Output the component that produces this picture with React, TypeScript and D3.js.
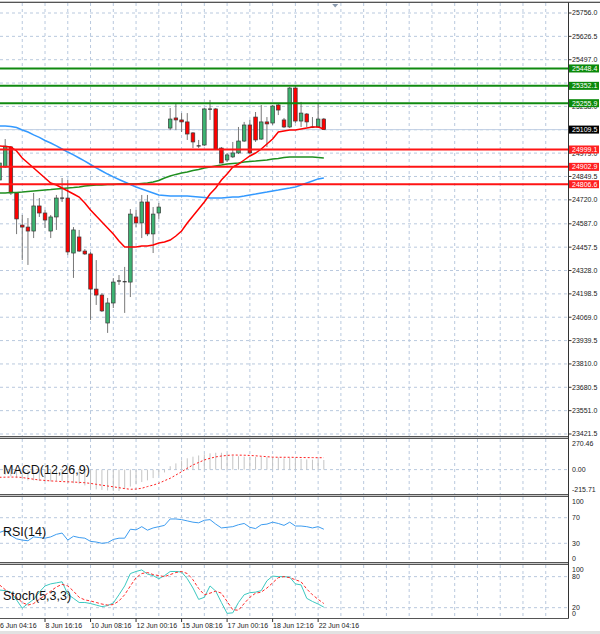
import React from "react";
import * as d3 from "d3";

// ---------- data ----------
const priceTickLabels = ["25756.0","25626.5","25497.0","25367.5","25238.0","25108.5","24979.0","24849.5","24720.0","24587.0","24457.5","24328.0","24198.5","24069.0","23939.5","23810.0","23680.5","23551.0","23421.5"];
// tick labels fully covered by the level boxes in the reference
const hiddenTickLabels = ["25367.5", "25108.5"];
const resistanceLevels = [25448.4, 25352.1, 25255.9];
const supportLevels = [24999.1, 24902.9, 24806.6];
const lastPrice = 25109.5;

const dateIndex = [0, 8, 16, 24, 32, 40, 48, 56];
const dateLabels = ["6 Jun 04:16","8 Jun 16:16","10 Jun 08:16","12 Jun 00:16","15 Jun 08:16","17 Jun 00:16","18 Jun 12:16","22 Jun 04:16"];

const opens = [24830,24902,25013,24758,24580,24569,24547,24686,24647,24547,24625,24730,24730,24425,24514,24436,24420,24225,24192,24037,24148,24270,24265,24264,24625,24592,24708,24531,24647,null,25118,25174,25163,25152,25091,25020,25024,25224,25224,25007,24941,24958,24980,25046,25135,25179,25057,25152,25146,25246,25163,25124,25340,25157,25196,25124,25124,25168];
const highs = [24941,25057,25018,24763,24636,24619,24758,24730,24664,24636,24747,24841,24830,24569,24553,24447,24431,24386,24203,24176,24286,24303,24348,24669,24664,24747,24747,24680,24702,null,25229,25257,25201,25201,25096,25052,25229,25274,25229,25013,24980,25041,25124,25152,25163,25207,25246,25179,25246,25257,25174,25346,25351,25263,25201,25179,25257,25174];
const lows = [24802,24897,24747,24530,24386,24359,24508,24625,24564,24508,24553,24708,24414,24287,24431,24414,24054,24137,24098,23982,24120,24248,24093,24181,24569,24508,24519,24425,24614,null,25107,25107,25096,25052,25007,25007,25018,25163,24996,24924,24930,24952,24974,25041,24974,25041,25052,25013,25135,25190,25118,25118,25146,25124,25124,25118,25118,25107];
const closes = [24924,25018,24758,24614,24569,24547,24686,24647,24608,24625,24730,24728,24431,24553,24436,24420,24225,24192,24104,24148,24264,24270,24267,24641,24592,24708,24531,24641,24680,null,25168,25163,25152,25085,25041,25018,25224,25222,25002,24924,24969,24980,25046,25135,24980,25052,25152,25141,25240,25218,25124,25340,25157,25201,25152,25122,25168,25109.5];

const maFast = [25018.5,25015.7,25013.0,24990.8,24952.0,24924.3,24896.5,24868.8,24841.1,24813.4,24802.3,24785.6,24769.0,24752.4,24735.7,24702.5,24663.6,24630.4,24597.1,24563.8,24530.5,24491.7,24458.5,24458.5,24458.5,24464.0,24464.0,24469.6,24480.7,24486.2,24497.3,24519.4,24547.2,24591.5,24630.4,24669.2,24708.0,24752.4,24785.6,24830.0,24863.3,24902.1,24918.7,24940.9,24963.1,24979.7,25001.9,25029.6,25057.3,25096.1,25101.7,25107.2,25107.2,25112.8,25118.3,25123.9,25123.9,25112.8];
const maSlow = [24758,24758,24761,24761,24763,24766,24769,24772,24775,24777,24780,24783,24786,24788,24791,24797,24800,24802,24802,24805,24805,24808,24808,24808,24808,24811,24813,24819,24827,24841,24852,24861,24869,24874,24883,24888,24897,24902,24908,24913,24919,24922,24924,24930,24933,24935,24938,24941,24946,24949,24955,24958,24958,24958,24958,24958,24955,24952];
const maMid = [25129,25129,25127,25121,25107,25096,25080,25066,25049,25035,25019,25002,24985,24969,24952,24935,24916,24897,24880,24863,24847,24833,24819,24805,24791,24780,24769,24758,24747,24744,24741,24741,24741,24741,24739,24736,24733,24730,24730,24730,24733,24736,24736,24741,24747,24752,24758,24763,24769,24774,24780,24785,24791,24802,24813,24824,24836,24841];

const macdMain = [-50,-45,-60,-75,-85,-95,-95,-100,-105,-105,-100,-100,-115,-120,-125,-140,-166,-175,-180,-185,-189,-189,-170,-150,-130,-110,-95,-75,-50,-25,30,55,80,100,114,125,135,144,149,149,140,125,118,114,114,112,112,110,110,108,100,105,100,95,90,88,85,85];
const macdSignal = [-68,-67,-66,-66,-70,-78,-85,-92,-96,-100,-103,-106,-108,-110,-113,-116,-122,-130,-138,-145,-152,-160,-168,-174,-172,-165,-150,-137,-121,-98,-77,-48,-19,12,41,63,85,100,112,120,125,129,128,127,125,122,118,114,110,109,109,109,108,107,106,106,105,105];
const macdTicks = [270.46, 0, -215.71];

const rsiValues = [47,50,42,37,35,34,40,39,38,40,44,46,35,41,39,38,33,32,30,31,36,38,38,52,51,56,50.5,54,56,58,68,68,67,65,63,62,66,67,60,54,55,56,59,61,55,53,59,60,63,61,58,63,57,57,56,54,56,52];
const rsiTicks = [100, 70, 30, 0];
const rsiGrid = [70, 30];

const stochK = [54,53,50,35,19,28,36,50,62,66,68,70,46,38,30,30,28,25,22,24,29,45,62,86,90,93,85,82,76,82,90,90,89,76,58,36,40,62,52,30,9,10,30,45,49,50,53,72,81,80,80,79,66,64,38,32,27,21];
const stochD = [64,55,47,40,30,25,28,36,44,52,60,65,62,52,40,35,33,30,27,25,26,33,45,62,78,86,88,84,82,80,84,88,90,86,74,57,45,48,52,48,32,16,15,28,40,48,50,58,68,78,80,78,74,70,56,45,36,28];
const stochTicks = [100, 80, 20, 0];
const stochGrid = [80, 20];

// ---------- layout ----------
const W = 600, H = 634;
const AX = 568.5;
const FONT = "'Liberation Sans', Arial, sans-serif";
const GRID = "#b9c9de";

export default function App() {
  const x = d3.scaleLinear().domain([0, 100]).range([-0.5, 568.5]);
  const yMain = d3.scaleLinear().domain([23421.5, 25756]).range([434, 13]);
  const yMacd = d3.scaleLinear().domain([-215.71, 270.46]).range([494, 439]);
  const yRsi = d3.scaleLinear().domain([0, 100]).range([562.5, 498.5]);
  const ySto = d3.scaleLinear().domain([0, 100]).range([618, 566.3]);

  const panels = [
    { id: "pm", top: 3, bottom: 436 },
    { id: "pmacd", top: 439, bottom: 494.5 },
    { id: "prsi", top: 497, bottom: 563 },
    { id: "psto", top: 565, bottom: 618.5 },
  ];
  const gridIdx = d3.range(4, 100, 4);

  const idx = d3.range(opens.length);
  const lineOf = (vals: number[], y: d3.ScaleLinear<number, number>) =>
    d3.line<number>().x((_, i) => x(i)).y((v) => y(v))(vals) || "";

  const clampLabel = (yy: number, top: number, bottom: number) =>
    Math.max(top + 4.5, Math.min(bottom - 4.5, yy));

  const axisText = (key: string, yy: number, text: string, fill = "#222") => (
    <text key={key} x={572} y={yy} dy="0.35em" fontSize={7} fontFamily={FONT} fill={fill}>{text}</text>
  );

  const levelBox = (key: string, v: number, bg: string) => (
    <g key={key}>
      <rect x={569} y={yMain(v) - 4} width={30} height={8} fill={bg} />
      <text x={572} y={yMain(v)} dy="0.35em" fontSize={7} fontFamily={FONT} fill="#fff">{v.toFixed(1)}</text>
    </g>
  );

  return (
    <svg width={W} height={H} style={{ position: "fixed", left: 0, top: 0, background: "#fff" }}>
      <defs>
        {panels.map((p) => (
          <clipPath id={p.id} key={p.id}>
            <rect x={0} y={p.top} width={AX} height={p.bottom - p.top} />
          </clipPath>
        ))}
      </defs>
      <rect x={0} y={0} width={W} height={H} fill="#fff" />

      {/* vertical grid in all panels */}
      {panels.map((p) => (
        <g key={"vg" + p.id}>
          {gridIdx.map((i) => (
            <line key={i} x1={x(i)} x2={x(i)} y1={p.top} y2={p.bottom} stroke={GRID} strokeDasharray="3,3" strokeWidth={1} />
          ))}
        </g>
      ))}

      {/* main panel horizontal grid */}
      {priceTickLabels.map((t) => (
        <line key={"hg" + t} x1={0} x2={AX} y1={yMain(+t)} y2={yMain(+t)} stroke={GRID} strokeDasharray="3,3" />
      ))}

      <g clipPath="url(#pm)">
        {/* bid line */}
        <line x1={0} x2={AX} y1={yMain(lastPrice)} y2={yMain(lastPrice)} stroke="#c2d0e4" strokeWidth={1} />
        {/* candles */}
        {idx.map((i) => {
          const o = opens[i], h = highs[i], l = lows[i], c = closes[i];
          if (o == null || h == null || l == null || c == null) return null;
          const cx = x(i);
          const top = yMain(Math.max(o, c));
          const bot = yMain(Math.min(o, c));
          const doji = Math.abs(bot - top) < 1.2;
          return (
            <g key={"c" + i}>
              <line x1={cx} x2={cx} y1={yMain(h)} y2={yMain(l)} stroke="#787878" strokeWidth={1} />
              {doji ? (
                <line x1={cx - 2} x2={cx + 2} y1={(top + bot) / 2} y2={(top + bot) / 2} stroke="#333" strokeWidth={1.2} />
              ) : (
                <rect x={cx - 1.8} y={top} width={3.6} height={bot - top} fill={c > o ? "#3cb371" : "#ff0000"} stroke="#3a3a3a" strokeWidth={0.7} />
              )}
            </g>
          );
        })}
        {/* moving averages */}
        <path d={lineOf(maMid, yMain)} fill="none" stroke="#3399ff" strokeWidth={1.5} />
        <path d={lineOf(maSlow, yMain)} fill="none" stroke="#1f8f1f" strokeWidth={1.5} />
        <path d={lineOf(maFast, yMain)} fill="none" stroke="#ff0000" strokeWidth={1.5} />
        {/* levels */}
        {resistanceLevels.map((v) => (
          <line key={"r" + v} x1={0} x2={AX} y1={yMain(v)} y2={yMain(v)} stroke="#108a10" strokeWidth={2} />
        ))}
        {supportLevels.map((v) => (
          <line key={"s" + v} x1={0} x2={AX} y1={yMain(v)} y2={yMain(v)} stroke="#ff1414" strokeWidth={2} />
        ))}
      </g>

      {/* MACD */}
      <line x1={0} x2={AX} y1={yMacd(0)} y2={yMacd(0)} stroke={GRID} strokeDasharray="3,3" />
      <g clipPath="url(#pmacd)">
        {idx.map((i) => (
          <line key={"h" + i} x1={x(i)} x2={x(i)} y1={yMacd(0)} y2={yMacd(macdMain[i])} stroke="#c4c4c4" strokeWidth={1} />
        ))}
        <path d={lineOf(macdSignal, yMacd)} fill="none" stroke="#ff2020" strokeWidth={1} strokeDasharray="2,2" />
      </g>
      <text x={3} y={470} dy="0.35em" fontSize={12.5} fontFamily={FONT} fill="#111">MACD(12,26,9)</text>

      {/* RSI */}
      {rsiGrid.map((v) => (
        <line key={"rg" + v} x1={0} x2={AX} y1={yRsi(v)} y2={yRsi(v)} stroke={GRID} strokeDasharray="3,3" />
      ))}
      <g clipPath="url(#prsi)">
        <path d={lineOf(rsiValues, yRsi)} fill="none" stroke="#3d9cf0" strokeWidth={1} />
      </g>
      <text x={3} y={532} dy="0.35em" fontSize={12.5} fontFamily={FONT} fill="#111">RSI(14)</text>

      {/* Stochastic */}
      {stochGrid.map((v) => (
        <line key={"sg" + v} x1={0} x2={AX} y1={ySto(v)} y2={ySto(v)} stroke={GRID} strokeDasharray="3,3" />
      ))}
      <g clipPath="url(#psto)">
        <path d={lineOf(stochK, ySto)} fill="none" stroke="#3cc8c0" strokeWidth={1} />
        <path d={lineOf(stochD, ySto)} fill="none" stroke="#ff2a2a" strokeWidth={1} strokeDasharray="3,2" />
      </g>
      <text x={3} y={595.5} dy="0.35em" fontSize={12.5} fontFamily={FONT} fill="#111">Stoch(5,3,3)</text>

      {/* borders */}
      <line x1={0} x2={W} y1={1.5} y2={1.5} stroke="#c8c8c8" />
      <line x1={0} x2={W} y1={2.5} y2={2.5} stroke="#555" />
      {[436.5, 438.5, 494.5, 496.5, 562.5, 564.5, 618.5].map((yy) => (
        <line key={"b" + yy} x1={0} x2={AX} y1={yy} y2={yy} stroke="#555" strokeWidth={1} />
      ))}
      {[437.5, 495.5, 563.5].map((yy) => (
        <line key={"bl" + yy} x1={0} x2={AX} y1={yy} y2={yy} stroke="#c8c8c8" strokeWidth={1} />
      ))}
      <line x1={AX} x2={AX} y1={2.5} y2={618.5} stroke="#333" strokeWidth={1} />

      {/* price axis */}
      {priceTickLabels.map((t) => (
        <g key={"pt" + t}>
          <line x1={AX} x2={AX + 3} y1={yMain(+t)} y2={yMain(+t)} stroke="#333" />
          {hiddenTickLabels.includes(t) ? null : axisText("pl" + t, yMain(+t), t)}
        </g>
      ))}
      {resistanceLevels.map((v) => levelBox("rb" + v, v, "#0a8a0a"))}
      {supportLevels.map((v) => levelBox("sb" + v, v, "#ff2020"))}
      {levelBox("last", lastPrice, "#000")}

      {/* subpanel axes */}
      {macdTicks.map((v) => axisText("mt" + v, clampLabel(yMacd(v), 439, 494.5), v.toFixed(2)))}
      {rsiTicks.map((v) => axisText("rt" + v, clampLabel(yRsi(v), 497, 563), String(v)))}
      {stochTicks.map((v) => axisText("st" + v, clampLabel(ySto(v), 565, 618.5), String(v)))}

      {/* date axis */}
      {dateIndex.map((i, k) => (
        <g key={"d" + i}>
          <line x1={x(i)} x2={x(i)} y1={618.5} y2={622} stroke="#333" />
          <text x={x(i) + 0.5} y={625.5} dy="0.35em" fontSize={7} fontFamily={FONT} fill="#222">{dateLabels[k]}</text>
        </g>
      ))}
      <rect x={0} y={631} width={W} height={3} fill="#e2e2e2" />

      {/* chart shift marker */}
      <path d={`M${x(59) - 3},4 L${x(59) + 3},4 L${x(59)},7.5 Z`} fill="#8a9aae" />
    </svg>
  );
}
